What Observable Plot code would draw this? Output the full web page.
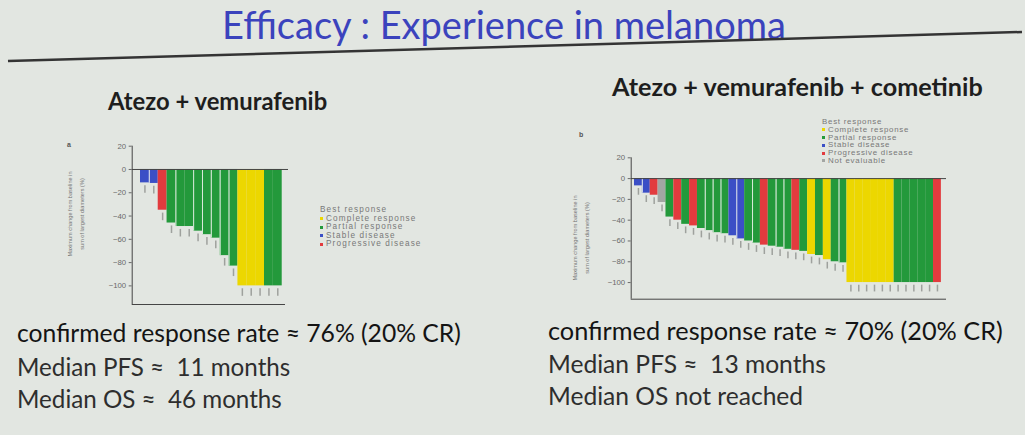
<!DOCTYPE html>
<html><head><meta charset="utf-8">
<script src="https://cdn.jsdelivr.net/npm/d3@7"></script>
<script src="https://cdn.jsdelivr.net/npm/@observablehq/plot@0.6"></script>
<style>
html,body{margin:0;padding:0;}
body{width:1025px;height:435px;background:#e2e6e1;position:relative;overflow:hidden;font-family:Lato,"Open Sans",sans-serif;}
.t{position:absolute;white-space:pre;line-height:1;}
.c{position:absolute;}
.lg{position:absolute;font-family:"Liberation Sans",Arial,sans-serif;color:#787878;white-space:nowrap;}
.lg span.d{display:inline-block;width:3px;height:3px;margin-right:3px;vertical-align:middle;}
.yl{position:absolute;font-family:"Liberation Sans",Arial,sans-serif;font-size:5.6px;color:#777;white-space:nowrap;transform:translate(-50%,-50%) rotate(-90deg);}
</style></head><body>
<script>
// ---- data ----
const title = "Efficacy : Experience in melanoma";
const subtitleA = "Atezo + vemurafenib";
const subtitleB = "Atezo + vemurafenib + cometinib";
const yLabel = ["Maximum change from baseline in", "sum of largest diameters (%)"];
const legendTitle = "Best response";
const responseKeys = ["CR", "PR", "SD", "PD", "NE"];
const responseNames = ["Complete response", "Partial response", "Stable disease", "Progressive disease", "Not evaluable"];
const responseColors = ["#ecd700", "#23993b", "#3b4fc6", "#e23b3e", "#a3a6a3"];
const yTicks = [20, 0, -20, -40, -60, -80, -100];

const respA = ["SD","SD","PD","PR","PR","PR","PR","PR","PR","PR","PR","CR","CR","CR","PR","PR"];
const changeA = [-11.5,-12,-35,-46,-49,-49,-53,-56,-59,-74,-83,-100,-100,-100,-100,-100];

const respB = ["SD","SD","PD","NE","PR","PD","PR","PD","PR","PR","PR","PR","SD","SD","PR","PR","PD","PR","PR","PR","PD","PR","CR","PR","CR","PR","PR",
               "CR","CR","CR","CR","CR","CR","PR","PR","PR","PR","PR","PD"];
const changeB = [-7,-14,-16,-23,-37,-40,-44,-45.5,-48,-50,-52,-53,-55,-58,-60,-62,-64,-65,-66,-68,-69,-70,-73,-74,-78,-80,-81,
                 -100,-100,-100,-100,-100,-100,-100,-100,-100,-100,-100,-100];

const statsA = ["confirmed response rate \u2248 76% (20% CR)", "Median PFS \u2248  11 months", "Median OS \u2248  46 months"];
const statsB = ["confirmed response rate \u2248 70% (20% CR)", "Median PFS \u2248  13 months", "Median OS not reached"];

// ---- helpers ----
function addText(txt, x, y, size, color, weight, extra) {
  const d = document.createElement("div");
  d.className = "t";
  d.textContent = txt;
  d.style.left = x + "px";
  d.style.top = y + "px";
  d.style.fontSize = size + "px";
  d.style.color = color;
  d.style.fontWeight = weight || 400;
  if (extra) Object.assign(d.style, extra);
  document.body.appendChild(d);
  return d;
}

function waterfall(resp, change, o) {
  const data = resp.map((r, i) => ({i, r, v: change[i], sep: i > 0 && r === resp[i-1] && change[i] !== change[i-1]}));
  const plot = Plot.plot({
    width: o.width, height: o.height,
    marginLeft: o.ml, marginRight: o.mr, marginTop: o.mt, marginBottom: o.mb,
    style: {background: "transparent", fontFamily: "'Liberation Sans', Arial, sans-serif", color: "#6a6a6a", overflow: "visible"},
    x: {domain: o.xd, axis: null},
    y: {domain: [-116, 20], axis: null},
    color: {domain: responseKeys, range: responseColors},
    marks: [
      Plot.rect(data, {x1: "i", x2: d => d.i + 1, y1: 0, y2: "v", fill: "r"}),
      Plot.ruleX(data.filter(d => d.sep), {x: "i", y1: 0, y2: "v", stroke: "#f1f4ef", strokeWidth: 0.9}),
      Plot.ruleX(data, {x: d => d.i + 0.5, y1: d => d.v - 2.5, y2: d => d.v - 9, stroke: "#8d908c", strokeWidth: 1.5, strokeOpacity: 0.8}),
      Plot.ruleY([0], {stroke: "#454545", strokeWidth: 1}),
      Plot.ruleX([o.xd[0]], {y1: 20, y2: -116, stroke: "#454545", strokeWidth: 1}),
      Plot.ruleY([-116], {x1: o.xd[0], x2: o.xEnd, stroke: "#454545", strokeWidth: 1}),
      Plot.axisY(yTicks, {anchor: "left", label: null, tickSize: 3, tickPadding: 3, fontSize: 7.8})
    ]
  });
  const c = document.createElement("div");
  c.className = "c";
  c.style.left = o.left + "px";
  c.style.top = o.top + "px";
  c.appendChild(plot);
  document.body.appendChild(c);
}

function legend(x, y, n, fs, lh, ls) {
  const d = document.createElement("div");
  d.className = "lg";
  d.style.left = x + "px";
  d.style.top = y + "px";
  d.style.fontSize = fs + "px";
  d.style.lineHeight = lh + "px";
  d.style.letterSpacing = ls + "px";
  let html = legendTitle + "<br>";
  for (let k = 0; k < n; k++) {
    html += `<span class="d" style="background:${responseColors[k]}"></span>${responseNames[k]}<br>`;
  }
  d.innerHTML = html;
  document.body.appendChild(d);
}

function yAxisLabel(x1, x2, cy) {
  [x1, x2].forEach((x, k) => {
    const d = document.createElement("div");
    d.className = "yl";
    d.textContent = yLabel[k];
    d.style.left = x + "px";
    d.style.top = cy + "px";
    document.body.appendChild(d);
  });
}

// ---- title & rule ----
addText(title, 222, 4.5, 38, "#3b43bd", 400);
const ns = "http://www.w3.org/2000/svg";
const svg = document.createElementNS(ns, "svg");
svg.setAttribute("width", 1025); svg.setAttribute("height", 435);
svg.style.position = "absolute"; svg.style.left = "0"; svg.style.top = "0";
const ln = document.createElementNS(ns, "line");
ln.setAttribute("x1", 8); ln.setAttribute("y1", 61); ln.setAttribute("x2", 1022); ln.setAttribute("y2", 32);
ln.setAttribute("stroke", "#343434"); ln.setAttribute("stroke-width", 2.5);
svg.appendChild(ln);
document.body.appendChild(svg);

// ---- subtitles ----
addText(subtitleA, 108, 90, 23.8, "#1e1e1e", 700);
addText(subtitleB, 612, 74, 25.2, "#1e1e1e", 700);

// ---- charts ----
waterfall(respA, changeA, {left: 60, top: 135, width: 240, height: 180, ml: 71.7, mr: 12, mt: 10.7, mb: 11, xd: [-0.937, 16.71], xEnd: 16.37});
waterfall(respB, changeB, {left: 560, top: 148, width: 400, height: 160, ml: 70.7, mr: 14, mt: 9.3, mb: 9.3, xd: [-0.42, 39.65], xEnd: 39.65});

addText("a", 67, 141, 7, "#555", 700, {fontFamily: "'Liberation Sans', Arial"});
addText("b", 579, 131, 7, "#555", 700, {fontFamily: "'Liberation Sans', Arial"});
yAxisLabel(70, 82, 214);
yAxisLabel(575, 587, 238);
legend(320, 206, 4, 8.2, 8.6, 1.15);
legend(822, 118, 5, 7.9, 7.8, 0.75);

// ---- stats text ----
statsA.forEach((s, k) => addText(s, 17, [321, 355, 386.5][k], k ? 24.2 : 24.7, k ? "#2e2e2e" : "#141414", 400));
statsB.forEach((s, k) => addText(s, 548, [318, 351.5, 384][k], k ? 24.6 : 25.3, k ? "#2e2e2e" : "#141414", 400));
</script>
</body></html>
